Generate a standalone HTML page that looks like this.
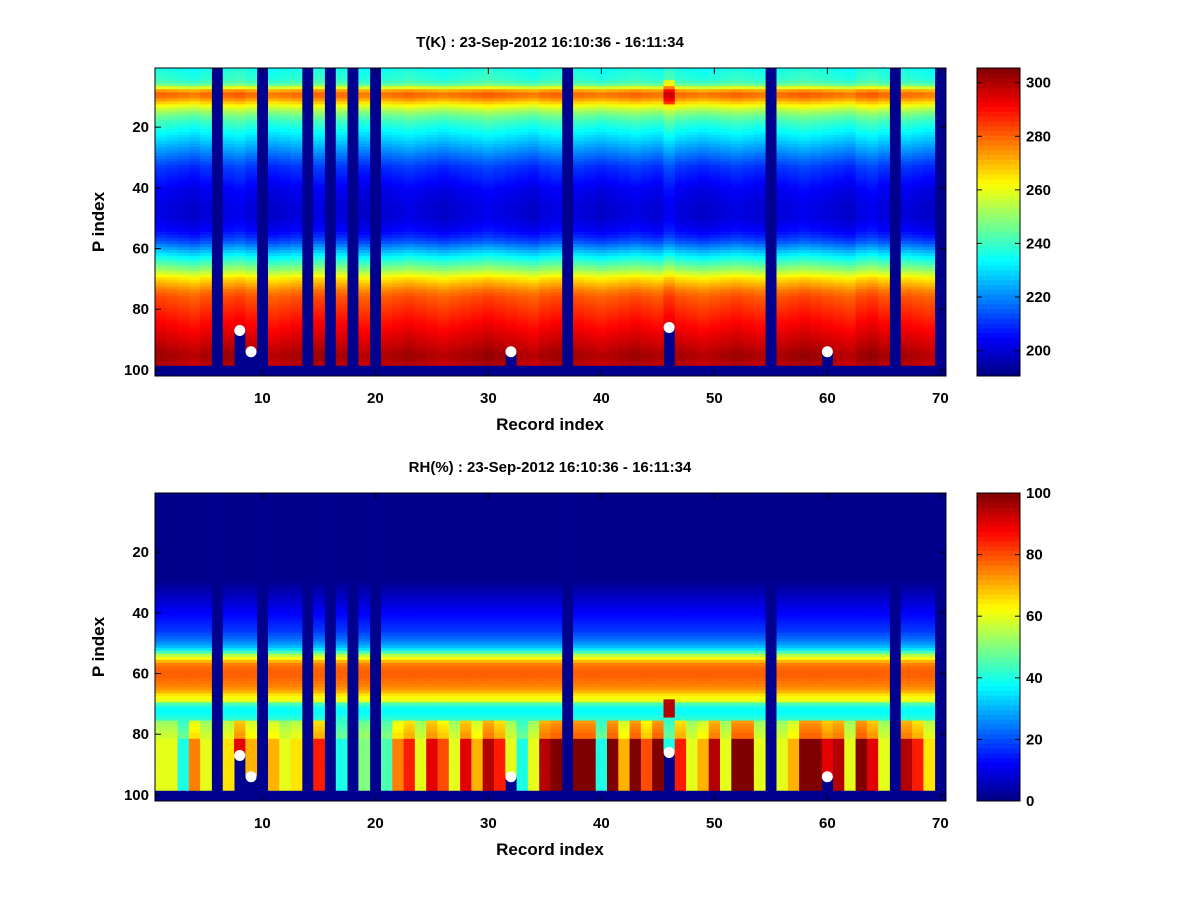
<!DOCTYPE html>
<html><head><meta charset="utf-8">
<style>
body{margin:0;background:#fff;width:1200px;height:900px;overflow:hidden;font-family:"Liberation Sans",sans-serif;}
svg text{font-family:"Liberation Sans",sans-serif;font-weight:bold;}
</style></head>
<body>
<svg id="fig" width="1200" height="900" xmlns="http://www.w3.org/2000/svg"></svg>
<script>
// ---- data ----
const recordIndex = Array.from({length:70},(_, i)=>i+1);
const missingCols = [6,10,14,16,18,20,37,55,66,70];
const cutCols = [8,9,32,46,60];
const cutRows = [87,94,94,86,94];
const tTicks = [200,220,240,260,280,300];
const rhTicks = [0,20,40,60,80,100];
const xTicks = [10,20,30,40,50,60,70];
const yTicks = [20,40,60,80,100];
const tProfile = [235,236,237,238,240,245,258,272,278,277,272,266,260,255,250,246,243,240,238,236,
234,232,230,228,226,224,222,220,218,216,214,212,210,209,208,207,206,205,204,203,
202,202,201,201,200,200,200,200,200,200,201,202,203,204,206,208,211,214,218,222,
226,230,234,238,242,246,250,255,260,265,268,271,274,277,279,281,282,283,284,285,
286,287,288,289,290,291,292,293,294,295,296,297,298,299,300,300,299,298];
const tColOffset = [2,1,0,-1,1,0,2,3,1,0,-1,0,1,0,2,0,1,0,-1,0,0,1,2,1,0,-1,0,1,2,3,2,1,0,-1,1,2,0,1,0,-1,
0,1,2,1,0,4,1,0,-1,0,1,2,1,0,0,1,2,3,2,1,0,-1,2,3,1,0,1,0,-1,0];
const rhProfile = [1,1,1,1,1,1,1,1,1,1,1,1,1,1,1,1,1,1,1,1,1,1,1,1,1,1,1,1,1,2,
3,4,5,6,7,8,9,10,11,12,13,14,15,16,17,18,20,22,24,27,30,35,45,55,62,70,75,77,78,78,
78,77,76,75,73,70,65,62,60,45,40,38,38,40,42,45,48,50,52,55,55,55,55,55,55,55,55,55,55,55,
55,55,55,55,55,55,55,55];
const rhBottom = [60,60,40,75,60,0,65,90,70,0,70,60,65,0,85,0,40,0,50,0,45,75,85,60,90,80,60,90,70,95,
85,60,40,60,95,100,0,100,100,40,100,70,100,80,100,40,85,60,70,95,60,100,100,60,0,60,70,100,100,90,
95,60,100,90,60,0,95,85,65,0];

// ---- helpers ----
function jet(v){v=Math.max(0,Math.min(1,v));
 const f=x=>Math.round(255*Math.max(0,Math.min(1,1.5-Math.abs(4*v-x))));
 return `rgb(${f(3)},${f(2)},${f(1)})`;}
const NS="http://www.w3.org/2000/svg";
const svg=document.getElementById('fig');
function el(tag,attrs,parent){const e=document.createElementNS(NS,tag);for(const k in attrs)e.setAttribute(k,attrs[k]);(parent||svg).appendChild(e);return e;}

function panel(top,title,valFn,vmin,vmax,cticks,name){
 const L=155,R=946,T=top,B=top+308;
 const cw=(R-L)/70, ch=(B-T)/101.5;
 const xs=i=>L+(i-0.5)*cw;
 const ys=p=>T+(p-0.5)*ch;
 const g=el('g',{});
 
 
 el('rect',{x:L,y:T,width:R-L,height:B-T,fill:'#00008f'},g);
 for(const c of recordIndex){
  for(let p=1;p<=98;p++){
   const v=valFn(c,p);
   if(v===null)continue;
   const r=el('rect',{x:xs(c)-cw/2,y:ys(p)-ch/2,width:cw+0.4,height:ch+0.4,fill:jet((v-vmin)/(vmax-vmin))},g);
   
   
  }
 }
 cutCols.forEach((c,i)=>{
  const d=el('circle',{cx:xs(c),cy:ys(cutRows[i]),r:5.5,fill:'#fff'},g);
  
  
 });
 el('rect',{x:L,y:T,width:R-L,height:B-T,fill:'none',stroke:'#000','stroke-width':1});
 xTicks.forEach(t=>{const x=xs(t);
  el('line',{x1:x,x2:x,y1:B,y2:B-6,stroke:'#000'});el('line',{x1:x,x2:x,y1:T,y2:T+6,stroke:'#000'});
  const tx=el('text',{x:x,y:B+27,'text-anchor':'middle','font-size':15});tx.textContent=t;
  });
 yTicks.forEach(t=>{const y=ys(t);
  el('line',{x1:L,x2:L+6,y1:y,y2:y,stroke:'#000'});el('line',{x1:R,x2:R-6,y1:y,y2:y,stroke:'#000'});
  const tx=el('text',{x:L-6,y:y+5,'text-anchor':'end','font-size':15});tx.textContent=t;
  });
 const tt=el('text',{x:550,y:T-21,'text-anchor':'middle','font-size':15});tt.textContent=title;
 
 const xl=el('text',{x:550,y:B+54,'text-anchor':'middle','font-size':17});xl.textContent='Record index';
 
 const yl=el('text',{x:0,y:0,'text-anchor':'middle','font-size':17,transform:`translate(104,${(T+B)/2}) rotate(-90)`});yl.textContent='P index';
 
 // colorbar
 const cL=977,cR=1020;
 const cb=el('g',{});
 
 
 const n=64;
 for(let k=0;k<n;k++){
  el('rect',{x:cL,y:B-(k+1)*(B-T)/n,width:cR-cL,height:(B-T)/n+0.5,fill:jet((k+0.5)/n)},cb);
 }
 el('rect',{x:cL,y:T,width:cR-cL,height:B-T,fill:'none',stroke:'#000'},cb);
 cticks.forEach(t=>{const y=B-(t-vmin)/(vmax-vmin)*(B-T);
  el('line',{x1:cL,x2:cL+5,y1:y,y2:y,stroke:'#000'},cb);el('line',{x1:cR,x2:cR-5,y1:y,y2:y,stroke:'#000'},cb);
  const tx=el('text',{x:cR+6,y:y+5,'font-size':15},cb);tx.textContent=t;
  });
}
function isNull(c,p){
 if(missingCols.includes(c))return true;
 const k=cutCols.indexOf(c);
 if(k>=0&&p>=cutRows[k])return true;
 return false;
}
panel(68,'T(K) : 23-Sep-2012 16:10:36 - 16:11:34',(c,p)=>{
 if(isNull(c,p))return null;
 let v=tProfile[p-1]+tColOffset[c-1];
 if(c===46&&p>=5&&p<=12)v+=15;
 return v;},190.5,305.5,tTicks,'temperature');
panel(493,'RH(%) : 23-Sep-2012 16:10:36 - 16:11:34',(c,p)=>{
 if(isNull(c,p))return null;
 let v=rhProfile[p-1];
 if(p>=82)v=rhBottom[c-1];
 else if(p>=76)v=(v+rhBottom[c-1])/2;
 if(c===46&&p>=69&&p<=74)v=95;
 return v;},0,100,rhTicks,'humidity');
</script>
</body></html>
